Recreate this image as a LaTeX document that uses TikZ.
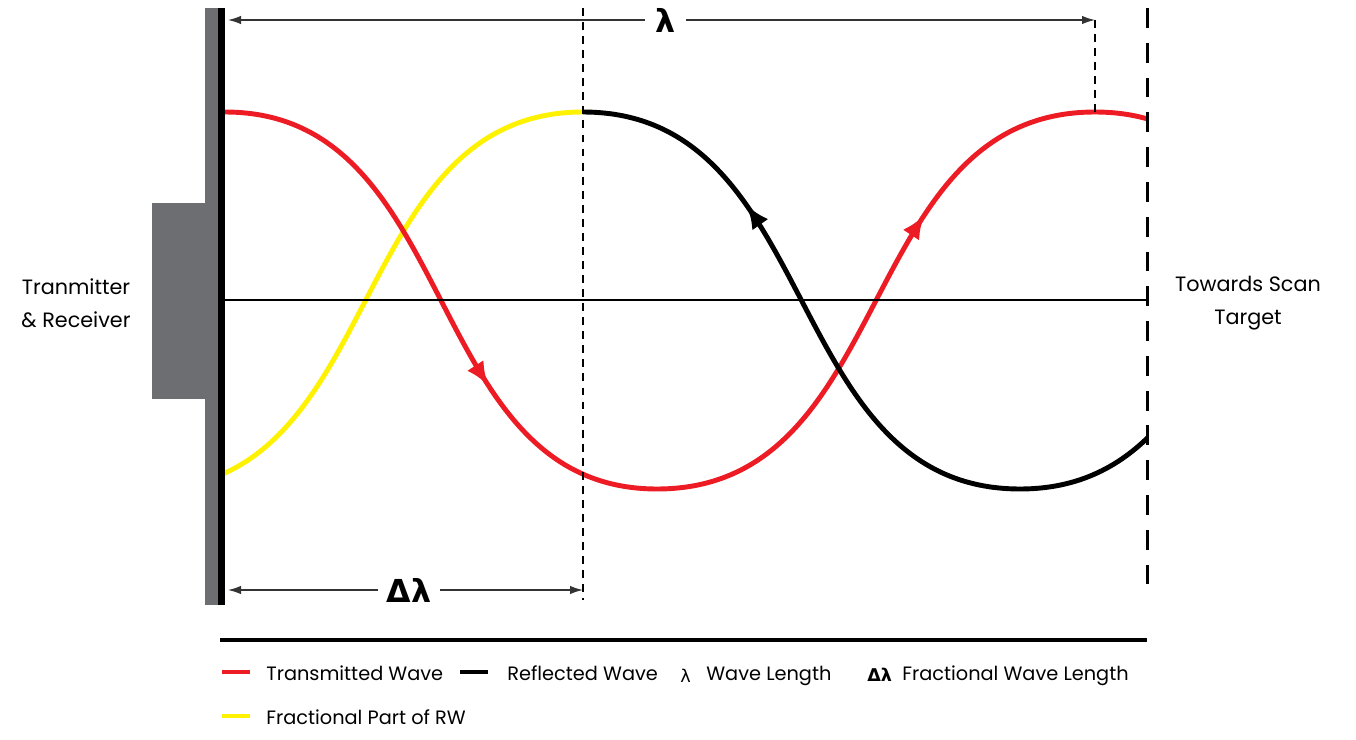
\documentclass[tikz,border=0pt]{standalone}
\usepackage{fontspec}
\setmainfont{Poppins}
\newfontfamily\greekfont{DejaVu Sans}
\usepackage{xcolor}
\usetikzlibrary{arrows.meta, positioning, decorations.markings}

\definecolor{txred}{HTML}{ED1C24}
\definecolor{rwyellow}{HTML}{FFF200}
\definecolor{unitgray}{HTML}{6D6E71}
\definecolor{dimgray}{HTML}{333333}

\begin{document}
\begin{tikzpicture}[
    x=0.02cm, y=-0.02cm,
    wave/.style={line width=2.8pt},
    redwave/.style={wave, color=txred},
    blackwave/.style={wave, color=black},
    yellowwave/.style={wave, color=rwyellow},
    fwdmark/.style={postaction={decorate}, decoration={markings, mark=at position #1 with {\arrow{Latex[length=4.8mm,width=3.9mm]}}}},
    backmark/.style={postaction={decorate}, decoration={markings, mark=at position #1 with {\arrowreversed{Latex[length=4.8mm,width=3.9mm]}}}},
    dimline/.style={draw=dimgray, line width=0.8pt, {Latex[length=2.6mm,width=1.7mm]}-{Latex[length=2.6mm,width=1.7mm]}},
    guide/.style={draw=black, line width=0.8pt, dash pattern=on 4.5pt off 3.5pt},
    sidelabel/.style={align=center, font=\fontsize{11.8}{18.7}\selectfont},
    dimlabel/.style={fill=white, inner ysep=0pt},
    legtext/.style={anchor=base west, inner sep=0pt, font=\fontsize{11}{13}\selectfont},
    swatch/.style={line width=2.8pt}
]
    \useasboundingbox (0,0) rectangle (1356,740);

    % waves
    \begin{scope}
        \clip (225,0) rectangle (1147,640);
        \draw[yellowwave] (148,489) .. controls (387,489) and (344,112) .. (583,112);
        \draw[redwave, fwdmark=0.66] (225,112) .. controls (462.6,112) and (419.4,489) .. (657,489);
        \draw[redwave, fwdmark=0.66] (657,489) .. controls (897.9,489) and (854.1,112) .. (1095,112);
        \draw[redwave] (1095,112) .. controls (1334,112) and (1291,489) .. (1530,489);
        \draw[blackwave, backmark=0.32] (583,112) .. controls (823.4,112) and (779.6,489) .. (1020,489);
        \draw[blackwave] (1020,489) .. controls (1259,489) and (1216,112) .. (1455,112);
    \end{scope}

    % transmitter and receiver
    \fill[unitgray] (205,8) rectangle (219,605);
    \fill[unitgray] (152,203) rectangle (205,399);
    \draw[line width=4pt] (221.5,8) -- (221.5,605);
    \draw[line width=1.6pt] (225,300) -- (1147,300);
    \draw[line width=1.7pt, dash pattern=on 11.3pt off 8.5pt] (1147,8) -- (1147,591);

    \node[sidelabel] (txrx) at (76,303) {Tranmitter\\\& Receiver};
    \node[sidelabel] (target) at (1248,303) {Towards Scan\\Target};

    % dimensions
    \coordinate (lamL) at (228,20);
    \coordinate (lamR) at (1095,20);
    \coordinate (dlamL) at (228,590);
    \coordinate (dlamR) at (583,590);
    \draw[guide] (583,8) -- (583,600);
    \draw[guide] (lamR) -- (1095,112);
    \draw[dimline] (lamL) -- node[dimlabel, pos=0.505, inner xsep=6pt, font=\greekfont\bfseries\fontsize{18}{18}\selectfont] (lam) {λ} (lamR);
    \draw[dimline] (dlamL) -- node[dimlabel, pos=0.51, inner xsep=5pt, font=\greekfont\bfseries\fontsize{18}{18}\selectfont] (dlam) {Δλ} (dlamR);

    % legend
    \draw[line width=2pt] (220,640) -- (1147,640);
    \draw[swatch, txred] (222,672) -- (250,672);
    \node[legtext] (legtx) at (266,680) {Transmitted Wave};
    \draw[swatch, black] (460,672) -- (488,672);
    \node[legtext] (legrw) at (507,680) {Reflected Wave};
    \node[legtext, font=\greekfont\fontsize{10}{10}\selectfont] (leglam) at (680,682) {λ};
    \node[legtext] (legwl) at (706,680) {Wave Length};
    \node[legtext, font=\greekfont\bfseries\fontsize{10}{10}\selectfont] (legdlam) at (867,681) {Δλ};
    \node[legtext] (legfwl) at (902,680) {Fractional Wave Length};
    \draw[swatch, rwyellow] (222,716) -- (250,716);
    \node[legtext] (legfp) at (266,724) {Fractional Part of RW};
\end{tikzpicture}
\end{document}
